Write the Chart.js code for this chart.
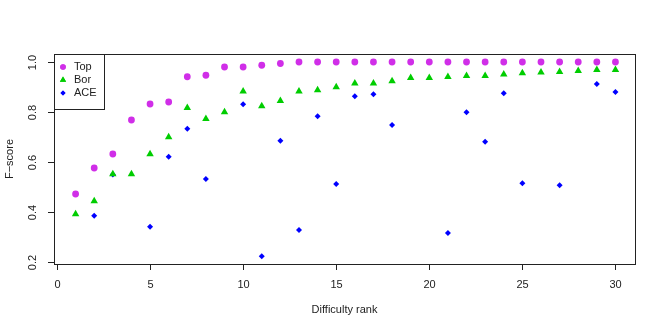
<!DOCTYPE html>
<html>
<head>
<meta charset="utf-8">
<script src="https://cdn.jsdelivr.net/npm/chart.js@4/dist/chart.umd.min.js"></script>
<style>
  body { margin: 0; background: #fff; }
  canvas { display: block; }
</style>
</head>
<body>
<canvas id="chart" width="664" height="332"></canvas>
<script>
const ranks = [1,2,3,4,5,6,7,8,9,10,11,12,13,14,15,16,17,18,19,20,21,22,23,24,25,26,27,28,29,30];
const topScores = [0.472,0.576,0.632,0.768,0.832,0.840,0.941,0.947,0.980,0.980,0.987,0.994,1,1,1,1,1,1,1,1,1,1,1,1,1,1,1,1,1,1];
const borScores = [0.392,0.444,0.552,0.552,0.632,0.700,0.817,0.773,0.800,0.883,0.824,0.845,0.883,0.888,0.900,0.915,0.915,0.924,0.937,0.937,0.941,0.945,0.945,0.951,0.956,0.959,0.961,0.965,0.969,0.969];
const aceScores = [null,0.385,0.550,null,0.341,0.621,0.733,0.532,null,0.831,0.223,0.685,0.328,0.783,0.512,0.863,0.871,0.748,null,null,0.316,0.799,0.681,0.875,0.515,null,0.507,null,0.912,0.880];
const xTicks = [0,5,10,15,20,25,30];
const yTicks = [0.2,0.4,0.6,0.8,1.0];

const FONT = '"Liberation Sans", Arial, sans-serif';
const INK = '#222';

function pts(values) {
  return ranks.map((r, i) => ({ x: r, y: values[i] }));
}

const series = [
  { label: 'Top', data: pts(topScores), color: '#d02ee8', style: 'circle', radius: 3.4, legendRadius: 2.8 },
  { label: 'Bor', data: pts(borScores), color: '#00cd00', style: 'triangle', radius: 4.3, legendRadius: 3.6 },
  { label: 'ACE', data: pts(aceScores), color: '#0000ff', style: 'rectRot', radius: 3, legendRadius: 2.5 }
];

// R-style box, axes and legend
const rAxes = {
  id: 'rAxes',
  afterDraw(chart) {
    const { ctx, chartArea: a, scales: { x, y } } = chart;
    ctx.save();
    ctx.strokeStyle = INK;
    ctx.fillStyle = INK;
    ctx.lineWidth = 1;
    ctx.strokeRect(a.left + 0.5, a.top + 0.5, a.right - a.left, a.bottom - a.top);
    ctx.font = '11px ' + FONT;

    // x axis
    ctx.textAlign = 'center';
    ctx.textBaseline = 'middle';
    xTicks.forEach(v => {
      const px = Math.round(x.getPixelForValue(v)) + 0.5;
      ctx.beginPath();
      ctx.moveTo(px, a.bottom);
      ctx.lineTo(px, a.bottom + 6);
      ctx.stroke();
      ctx.fillText(String(v), px, a.bottom + 21);
    });

    // y axis, labels turned like R's default
    yTicks.forEach(v => {
      const py = Math.round(y.getPixelForValue(v)) + 0.5;
      ctx.beginPath();
      ctx.moveTo(a.left - 6, py);
      ctx.lineTo(a.left, py);
      ctx.stroke();
      ctx.save();
      ctx.translate(a.left - 21, py);
      ctx.rotate(-Math.PI / 2);
      ctx.fillText(v.toFixed(1), 0, 0);
      ctx.restore();
    });

    // axis titles
    ctx.fillText('Difficulty rank', (a.left + a.right) / 2, a.bottom + 46);
    ctx.save();
    ctx.translate(10, (a.top + a.bottom) / 2);
    ctx.rotate(-Math.PI / 2);
    ctx.fillText('F\u2212score', 0, 0);
    ctx.restore();

    // legend in the top left corner
    const lw = 50, lh = 55;
    ctx.fillStyle = '#fff';
    ctx.fillRect(a.left, a.top, lw, lh);
    ctx.strokeRect(a.left + 0.5, a.top + 0.5, lw, lh);
    ctx.textAlign = 'left';
    series.forEach((s, i) => {
      const cy = a.top + 13 + i * 13;
      ctx.fillStyle = s.color;
      Chart.helpers.drawPoint(ctx, { pointStyle: s.style, radius: s.legendRadius, borderWidth: 0 }, a.left + 9, cy);
      ctx.fill();
      ctx.fillStyle = INK;
      ctx.fillText(s.label, a.left + 20, cy);
    });
    ctx.restore();
  }
};

new Chart(document.getElementById('chart'), {
  type: 'scatter',
  data: {
    datasets: series.map(s => ({
      label: s.label,
      data: s.data,
      pointStyle: s.style,
      pointRadius: s.radius,
      pointHoverRadius: s.radius,
      pointBorderWidth: 0,
      backgroundColor: s.color,
      borderColor: s.color
    }))
  },
  options: {
    responsive: false,
    animation: false,
    layout: { padding: { left: 54, right: 29, top: 54, bottom: 68 } },
    plugins: { legend: { display: false }, tooltip: { enabled: false } },
    scales: {
      x: { type: 'linear', display: false, min: -0.16, max: 31.05 },
      y: { type: 'linear', display: false, min: 0.192, max: 1.032 }
    }
  },
  plugins: [rAxes]
});
</script>
</body>
</html>
